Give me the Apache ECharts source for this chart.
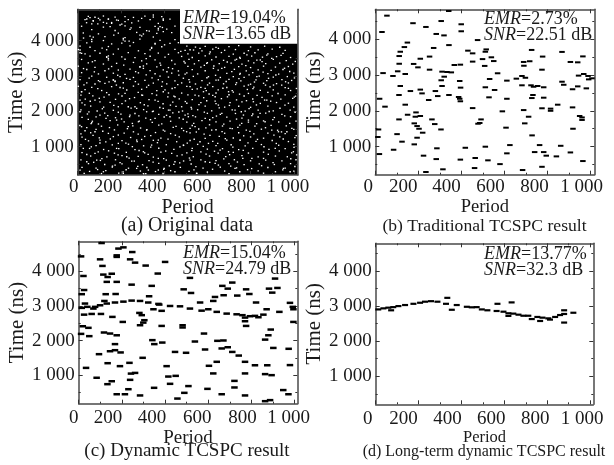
<!DOCTYPE html>
<html><head><meta charset="utf-8">
<style>html,body{margin:0;padding:0;background:#fff}#c{width:614px;height:465px;filter:blur(0.45px)}</style>
<script src="https://cdn.jsdelivr.net/npm/echarts@6/dist/echarts.min.js"></script>
</head><body><div id="c"></div>
<script>
const xTicks=[0,200,400,600,800,1000];
const xTickLabels=['0','200','400','600','800','1 000'];
const xMinorTicks=[100,300,500,700,900];
const yTicks=[1000,2000,3000,4000];
const yTickLabels=['1 000','2 000','3 000','4 000'];
const yMinorTicks=[500,1500,2500,3500,4500];

const originalData=[
[49,4690],[80,4665],[119,4700],[173,4670],[219,4685],[258,4660],[311,4695],[350,4670],[389,4680],
[34,4600],[72,4570],[103,4590],[142,4610],[188,4575],[234,4595],[281,4560],[335,4600],[396,4580],[427,4610],
[41,4510],[65,4480],[134,4495],[157,4515],[204,4470],[250,4505],[373,4490],
[18,4410],[119,4385],[150,4400],[219,4420],[288,4380],[358,4405],[392,4375],[450,4415],
[65,4315],[173,4290],[242,4320],[319,4285],[373,4305],[412,4330],
[26,4220],[96,4195],[188,4215],[273,4235],[304,4190],[366,4210],[435,4230],
[57,4130],[72,4100],[126,4115],[219,4090],[296,4135],[350,4105],
[65,4035],[119,4005],[211,4025],[288,4045],[381,4010],[450,4030],
[42,3940],[157,3910],[204,3930],[258,3950],[358,3905],[427,3925],[466,3945],
[11,3845],[57,3815],[142,3835],[242,3855],[342,3810],[389,3830],[505,3850],[545,3820],[590,3840],[640,3810],[700,3835],[745,3860],[800,3825],[865,3845],[935,3815],
[3,3750],[80,3720],[134,3745],[188,3765],[281,3715],[335,3740],[450,3755],[497,3725],[520,3745],[575,3715],[625,3760],[680,3730],[730,3750],[790,3720],[835,3740],[900,3765],[960,3725],
[11,3660],[34,3625],[103,3645],[165,3620],[234,3665],[311,3635],[373,3650],[420,3615],[466,3660],[510,3625],[560,3650],[610,3630],[665,3665],[720,3620],[770,3645],[820,3660],[880,3625],[950,3640],
[57,3565],[134,3530],[142,3570],[204,3545],[265,3520],[335,3560],[404,3535],[481,3555],[530,3525],[590,3570],[640,3540],[700,3555],[750,3530],[805,3565],[855,3535],[920,3550],[985,3525],
[18,3470],[80,3435],[142,3455],[219,3475],[296,3430],[358,3460],[435,3440],[515,3470],[560,3435],[620,3460],[675,3445],[735,3475],[790,3430],[845,3455],[905,3470],[965,3435],
[49,3375],[119,3340],[180,3360],[258,3385],[319,3345],[381,3365],[450,3335],[497,3370],[540,3345],[600,3380],[655,3350],[710,3365],[760,3335],[815,3375],[870,3350],[935,3365],[995,3340],
[3,3280],[80,3245],[157,3270],[288,3250],[304,3285],[366,3260],[420,3240],[510,3275],[570,3250],[630,3285],[680,3245],[745,3265],[800,3240],[860,3280],[915,3255],[975,3270],
[42,3185],[126,3150],[188,3170],[242,3195],[335,3155],[396,3175],[466,3145],[530,3180],[590,3150],[650,3165],[725,3190],[780,3145],[835,3175],[895,3160],[950,3185],
[18,3095],[96,3060],[165,3080],[219,3050],[281,3090],[358,3065],[435,3085],[497,3055],[505,3090],[555,3060],[690,3075],[750,3050],[810,3095],[880,3070],[930,3055],[1000,3085],
[65,2995],[134,2965],[196,2985],[258,2960],[381,3000],[420,2970],[535,2990],[660,2960],[720,2985],[770,2965],[840,2995],[905,2970],[970,2985],
[11,2900],[96,2870],[165,2890],[173,2860],[242,2905],[311,2875],[373,2895],[450,2865],[515,2900],[575,2870],[640,2885],[700,2905],[755,2865],[825,2890],[875,2870],[945,2900],[990,2875],
[42,2805],[80,2775],[126,2795],[211,2810],[281,2770],[350,2800],[412,2780],[481,2805],[545,2775],[610,2800],[675,2780],[735,2810],[800,2770],[860,2795],[920,2785],[975,2805],
[3,2710],[65,2680],[157,2700],[196,2675],[258,2715],[319,2685],[389,2705],[450,2670],[505,2710],[570,2680],[625,2700],[690,2675],[770,2715],[815,2685],[890,2695],[960,2670],
[34,2615],[111,2590],[227,2605],[296,2625],[366,2585],[404,2610],[530,2620],[595,2590],[650,2610],[715,2585],[785,2620],[845,2595],[905,2610],[985,2590],
[18,2556],[134,2530],[280,2540],[420,2520],[790,2508],[640,2520],[880,2535],[720,2545],
[15,2460],[70,2440],[145,2470],[205,2435],[300,2455],[365,2460],[445,2430],[510,2465],[560,2440],[625,2450],[700,2470],[770,2435],[830,2455],[900,2440],[960,2465],[1008,2430],
[35,2345],[100,2370],[175,2340],[240,2360],[330,2330],[358,2320],[470,2355],[530,2335],[597,2300],[665,2360],[735,2325],[810,2350],[865,2320],[940,2345],[995,2365],
[80,2320],[103,2270],[20,2240],[150,2255],[205,2220],[290,2245],[395,2215],[440,2260],[505,2230],[570,2250],[640,2220],[705,2245],[760,2270],[845,2225],[920,2250],[975,2230],
[234,2130],[265,2130],[60,2150],[120,2120],[325,2155],[380,2110],[455,2140],[525,2115],[590,2150],[680,2120],[745,2145],[800,2115],[880,2150],[1000,2120],
[15,2040],[90,2010],[165,2030],[305,2050],[350,2005],[420,2035],[485,2010],[555,2045],[620,2015],[715,2040],[775,2005],[835,2035],[905,2015],[983,2037],
[45,1925],[125,1950],[200,1920],[265,1940],[375,1915],[440,1955],[510,1930],[600,1945],[660,1915],[730,1940],[810,1925],[870,1950],[945,1915],
[131,1800],[20,1830],[85,1845],[175,1820],[240,1850],[315,1810],[400,1840],[470,1815],[545,1845],[625,1820],[690,1835],[760,1810],[835,1840],[910,1825],[985,1850],
[65,1680],[68,1720],[62,1650],[150,1735],[215,1700],[285,1725],[345,1690],[430,1720],[505,1695],[575,1735],[640,1700],[705,1725],[790,1695],[860,1730],[930,1700],[1010,1725],
[10,1600],[110,1580],[185,1615],[255,1590],[375,1610],[455,1575],[530,1600],[610,1620],[670,1585],[750,1610],[820,1580],[895,1605],[965,1590],
[34,1451],[396,1470],[85,1490],[170,1475],[230,1510],[320,1485],[490,1455],[560,1500],[640,1480],[715,1510],[780,1470],[850,1495],[925,1465],[1000,1490],
[142,1376],[60,1395],[15,1360],[215,1385],[280,1355],[360,1400],[430,1370],[520,1390],[585,1355],[680,1380],[745,1395],[815,1360],[880,1385],[960,1370],
[590,1235],[20,1270],[100,1250],[165,1285],[245,1260],[310,1290],[385,1240],[470,1275],[655,1290],[720,1245],[800,1275],[860,1240],[935,1280],[1005,1255],
[458,1140],[566,1140],[751,1187],[50,1165],[130,1135],[205,1170],[275,1145],[350,1180],[520,1175],[625,1150],[690,1185],[825,1150],[900,1175],[975,1145],
[342,1045],[15,1060],[85,1030],[160,1050],[235,1070],[305,1025],[410,1055],[490,1035],[555,1065],[640,1030],[710,1055],[775,1025],[850,1060],[930,1040],[1000,1065],
[55,950],[120,920],[190,945],[265,915],[375,955],[445,925],[530,950],[600,930],[670,945],[745,915],[810,950],[885,925],[960,945],
[435,810],[20,830],[95,850],[170,815],[225,840],[310,825],[385,845],[505,825],[570,850],[650,815],[720,840],[790,820],[860,845],[990,825],
[60,735],[135,710],[205,745],[280,725],[350,705],[460,740],[535,715],[610,735],[685,720],[760,745],[835,710],[915,735],[970,715],
[250,592],[262,592],[15,625],[105,610],[175,630],[330,605],[410,620],[490,595],[570,625],[640,605],[725,630],[800,600],[870,620],[945,600],[1010,630],
[50,520],[125,495],[205,515],[300,490],[375,525],[445,500],[525,510],[651,479],[700,520],[770,490],[840,515],[910,495],[985,520],
[20,415],[85,395],[160,420],[235,390],[320,410],[400,385],[475,415],[580,395],[660,420],[735,400],[805,380],[880,410],[960,390],
[55,300],[130,320],[210,285],[290,310],[305,235],[315,235],[360,295],[430,320],[515,300],[600,280],[680,310],[750,290],[835,315],[915,290],[1000,305],
[30,245],[110,240],[190,250],[395,240],[550,245],[700,235],[860,250],
[636,2414],[651,2178],[813,2273],[875,2320],[698,2556],[582,2556],[543,2461],[512,1848],[590,1801],[667,1942],[759,1659],[790,1753],[867,1706],[898,1470],[929,1423],[968,1423],[991,1517],[520,1517],[543,1565],[620,1470],[705,1517],[605,1093],[752,1187],[698,857],[659,904],[914,951],[998,857],[636,526],[806,668],[860,668],[520,621],[952,385],[983,290],[728,385],[551,243],[590,573],[767,1895],[844,1942],[728,2037],
[18,2556],[219,2509],[296,2461],[396,2556],[450,2414],[11,2320],[188,2131],[273,2084],[319,1989],[427,2037],[481,2131],[11,1989],[103,1895],[180,1753],[242,1895],[281,1706],[358,1800],[427,1848],[497,1895],[18,1565],[80,1423],[234,1565],[319,1470],[481,1517],[504,1423],[103,1187],[188,1093],[273,1187],[373,1187],[489,1045],[26,951],[80,810],[180,951],[227,715],[304,857],[373,668],[450,573],[42,573],[88,621],[173,479],[273,385],[327,338],[373,338],[450,290],[11,338],[119,290],[211,243],
[42,4615],[57,4652],[72,4558],[96,4633],[119,4520],[142,4615],[157,4492],[180,4586],[196,4445],[219,4539],[296,4633],[350,4728],[396,4615],[65,3973],[211,4067],[219,3991],[288,4161],[358,3925],[342,3784],[142,3500],[134,3548],[288,3265],[304,3217],[165,2887],[173,2840],[103,2840],[373,4350],[381,4397],[396,4256],[11,3737],[18,3642],
[898,3500],[875,3595],[829,3453],[728,3453],[752,3500],[566,3784],[536,3737],[651,3784],[597,3359],[667,3217],[752,3076],[829,2981],[906,2745],[944,2745],[975,2651],[520,2698],[605,2981],[651,2887],[790,2745],[590,2651],
[93,4478],[247,4362],[331,4271],[167,4158],[27,4076],[238,3987],[402,3884],[113,3792],[477,3698],[613,3681],[783,3602],[941,3588],[317,3491],[68,3404],[492,3412],[692,3398],[853,3406],[1007,3413],[213,3311],[384,3307],[586,3303],[778,3296],[27,3212],[143,3203],[439,3208],[628,3217],[957,3221],[77,3119],[268,3124],[413,3121],[713,3128],[858,3112],[981,3129],[185,3022],[317,3034],[468,3027],[638,3021],[793,3033],[917,3029],[53,2941],[226,2932],[344,2947],[489,2938],[598,2952],[746,2928],[883,2936],[1003,2946],[145,2833],[267,2842],[392,2837],[518,2829],[687,2846],[818,2831],[962,2838],[29,2752],[179,2744],[328,2738],[463,2757],[601,2749],[731,2761],[869,2743],[93,2641],[211,2660],[437,2648],[553,2637],[672,2655],[811,2641],[1012,2648],[54,2512],[189,2496],[344,2503],[481,2518],[608,2492],[749,2487],[927,2506],[122,2402],[263,2391],[417,2409],[583,2387],[693,2412],[853,2396],[1002,2401],[58,2287],[221,2296],[372,2283],[498,2278],[636,2291],[781,2302],[893,2288],[33,2184],[167,2172],[308,2187],[429,2176],[561,2191],[702,2168],[827,2182],[959,2174],[114,2074],[247,2089],[396,2082],[527,2067],[655,2096],[793,2078],[936,2088],[52,1987],[188,1976],[346,1994],[468,1982],[586,1978],[757,1989],[886,1996],[1006,1975],[139,1880],[283,1873],[411,1888],[533,1879],[642,1867],[806,1882],[958,1870],[49,1771],[203,1783],[337,1766],[488,1777],[611,1762],[735,1781],[903,1768],[96,1642],[253,1658],[389,1645],[537,1661],[676,1639],[828,1652],[981,1662],[42,1537],[147,1541],[291,1528],[442,1544],[593,1533],[741,1549],[869,1537],[116,1437],[258,1421],[403,1442],[549,1415],[668,1428],[797,1436],[943,1419],[71,1318],[188,1329],[338,1313],[452,1324],[612,1322],[768,1308],[908,1326],[1011,1314],[36,1207],[151,1219],[296,1204],[418,1215],[539,1211],[683,1227],[832,1206],[951,1218],[103,1104],[223,1098],[369,1113],[507,1102],[648,1096],[788,1109],[919,1091],[63,996],[253,1001],[338,987],[473,994],[581,1008],[718,986],[862,998],[1001,979],[143,883],[284,892],[407,877],[528,889],[633,871],[766,894],[933,878],[42,778],[187,766],[326,782],[483,769],[594,788],[703,774],[882,785],[1013,768],[112,662],[238,676],[398,661],[517,678],[676,655],[764,669],[986,658],[74,558],[196,547],[349,562],[472,541],[611,553],[739,566],[904,549],[161,450],[278,443],[424,458],[547,436],[708,447],[851,461],[1005,439],[92,352],[224,347],[398,356],[538,342],[624,361],[786,348],[949,343]
];
const traditionalResult=[
[341,4780],[54,4650],[306,4500],[399,4410],[175,4440],[235,4335],[31,4195],[399,4215],[283,4140],[319,4100],[149,3900],[135,3775],[342,3830],[271,3750],[116,3645],[111,3525],[430,3675],[452,3600],[515,3710],[511,3645],[726,3695],[867,3640],[777,3510],[111,3310],[252,3510],[209,3450],[498,3440],[539,3490],[550,3385],[452,3370],[508,3250],[689,3360],[717,3380],[906,3360],[940,3350],[964,3515],[178,3305],[198,3210],[367,3275],[395,3285],[690,3255],[252,3145],[774,3145],[104,3100],[310,3090],[333,3080],[353,3070],[82,2970],[139,3025],[36,3050],[568,3045],[392,2830],[396,2645],[320,2950],[306,2850],[531,2885],[611,2840],[655,2895],[681,2970],[697,2920],[723,2710],[681,2710],[735,2670],[754,2690],[782,2655],[867,2810],[875,2725],[944,2980],[968,3025],[988,2970],[1006,2905],[991,2875],[980,2625],[916,2600],[940,2680],[310,2690],[209,2590],[116,2690],[163,2550],[217,2485],[279,2550],[290,2410],[342,2440],[387,2385],[392,2335],[395,2265],[110,2440],[20,2335],[45,2115],[139,2170],[248,2300],[452,2075],[528,2375],[511,2655],[554,2580],[611,2335],[590,1985],[689,2020],[712,1835],[727,2355],[732,2440],[782,2365],[774,2070],[814,2060],[814,2000],[847,2170],[916,2095],[949,1855],[960,1815],[960,1745],[150,1890],[189,1955],[186,1835],[209,1855],[110,1760],[263,1760],[276,1630],[181,1650],[194,1575],[203,1500],[220,1390],[305,1480],[15,1480],[101,1350],[12,1270],[194,1250],[124,1140],[181,1065],[85,915],[286,955],[418,970],[511,1000],[625,1045],[763,1045],[861,1025],[918,1500],[607,1530],[694,1650],[728,1315],[740,850],[782,850],[906,840],[841,730],[794,750],[19,795],[224,750],[283,655],[395,640],[464,685],[523,620],[611,815],[964,600],[579,515],[774,440],[461,405],[314,370],[235,295],[684,350],[485,1660],[491,1760],[477,1640],[475,3970]
];
const dynamicResult=[
[14,2945],[40,2975],[76,2975],[99,3020],[130,3070],[168,3100],[207,3125],[245,3155],[284,3145],[322,3100],[369,3060],[423,3000],[469,2990],[515,2925],[569,2865],[600,2905],[639,2830],[685,2780],[731,2760],[770,2665],[793,2705],[816,2715],[832,2675],[855,2750],[870,2905],
[106,4815],[207,4690],[184,4655],[248,4555],[176,4460],[176,4415],[99,4345],[11,4430],[238,4345],[261,4250],[310,4165],[110,4155],[400,4270],[366,3935],[22,3865],[114,3905],[153,3930],[134,3835],[130,3695],[176,3695],[245,3615],[338,3580],[515,3810],[909,3790],[25,3460],[14,3340],[125,3340],[171,3345],[326,3280],[486,3480],[520,3375],[665,3580],[711,3675],[690,3500],[631,3260],[623,3145],[671,3310],[734,3300],[775,3480],[790,3345],[821,3100],[881,3500],[920,3520],[896,3385],[562,3100],[119,3145],[29,3070],[68,2925],[25,2750],[60,2770],[103,2770],[156,2685],[204,2540],[281,2800],[292,2735],[304,2590],[299,2520],[284,2445],[346,2905],[384,2860],[373,3040],[384,2425],[481,2445],[481,2380],[758,2735],[770,2560],[775,2425],[19,2415],[45,2370],[11,2195],[49,2130],[117,2235],[145,2205],[176,2155],[168,1900],[341,2015],[350,1900],[387,1945],[538,1975],[580,2205],[642,1995],[670,2005],[585,1745],[446,1675],[497,1650],[662,1775],[690,1810],[711,1675],[741,1570],[168,1725],[145,1695],[194,1660],[94,1610],[296,1505],[235,1360],[191,1265],[134,1350],[407,1265],[34,1215],[83,930],[133,745],[153,830],[261,1070],[242,1050],[238,870],[230,600],[176,455],[214,455],[284,420],[415,965],[449,985],[423,755],[349,640],[489,495],[457,330],[508,690],[596,610],[603,1275],[639,1390],[623,1055],[662,455],[721,840],[721,650],[770,420],[770,1055],[770,1390],[816,1290],[873,1290],[863,1035],[893,1005],[901,1790],[878,2155],[863,2030],[889,2320],[972,1765],[978,1295],[947,575],[971,455],[994,2540],[863,255],[886,285],[929,2830],[991,2975],[994,2905],[978,3090]
];
const longTermResult=[
[12,2905],[36,2935],[59,2955],[82,2970],[106,3000],[137,3030],[176,3065],[207,3095],[230,3125],[258,3140],[288,3125],[72,2880],[328,3065],[334,3235],[355,2895],[378,3030],[425,2980],[448,2965],[471,2970],[495,2905],[521,2880],[568,3065],[634,3105],[564,2860],[596,2840],[619,2795],[642,2785],[666,2755],[689,2725],[712,2725],[728,2630],[754,2690],[767,2575],[778,2670],[805,2650],[813,2615],[837,2690],[860,2745],[879,2775],[879,2530],[879,2880],[922,2810],[619,2720]
];
const annotations=[['19.04%','13.65 dB'],['2.73%','22.51 dB'],['15.04%','24.79 dB'],['13.77%','32.3 dB']];
const captions=['(a) Original data','(b) Traditional TCSPC result','(c) Dynamic TCSPC result','(d) Long-term dynamic TCSPC result'];

const F='"Liberation Serif",serif';
const INK='#1a1a1a';
const panels=[
 {data:originalData,l:77.7,t:9.3,w:220,h:165.7,xMax:1018,yMin:198,yMax:4890,dark:true,size:[1.4,1.3],color:'#ffffff',xm:3,
  shift:[4,13,12,10,9,6],pf:20,pg:32,nameX:21,ann:[180,9],capFont:20,capX:187,capY:226},
 {data:traditionalResult,l:375.3,t:9.3,w:219,h:165.4,xMax:1017,yMin:220,yMax:4827,size:[5.5,2],color:'#000',xm:3,
  shift:[7,15,15,14,13,9],pf:18.5,pg:32,nameX:318,ann:[484,10],capFont:17.6,capX:484.5,capY:226},
 {data:dynamicResult,l:78.7,t:241.3,w:218.6,h:162.4,xMax:1012,yMin:182,yMax:4865,size:[6.5,2.5],color:'#000',xm:5,
  shift:[5,14,13,11,9,6],pf:19,pg:32,nameX:21,ann:[183,244],capFont:19,capX:187,capY:451},
 {data:longTermResult,l:375.7,t:243.3,w:217.6,h:161,xMax:1015,yMin:200,yMax:4790,size:[6,2.2],color:'#000',xm:5,
  shift:[8,15,14,13,12,8],pf:16.5,pg:31,nameX:318,ann:[484,245],capFont:16,capX:484,capY:452}
];
const grids=[],xAxes=[],yAxes=[],series=[],titles=[];
panels.forEach((p,i)=>{
 const rect={left:p.l,top:p.t,width:p.w,height:p.h};
 const base=grids.length;
 grids.push({...rect,show:true,backgroundColor:p.dark?'#000':'#fff',borderWidth:0,z:0},{...rect,show:false});
 const line=s=>({show:s,onZero:false,lineStyle:{color:'#4a4a4a',width:1.5}});
 const rich={};
 xTickLabels.forEach((_,k)=>{rich['s'+k]={fontFamily:F,fontSize:19,color:INK,padding:[0,p.shift[k]*2,0,0]};});
 const xa=(g,pos,vals,len,labels,showLine)=>({type:'value',gridIndex:g,position:pos,min:0,max:p.xMax,splitLine:{show:false},
   axisLine:line(showLine),axisTick:{show:true,inside:true,length:len,customValues:vals,lineStyle:{color:'#333',width:1}},
   axisLabel:labels?{show:true,customValues:xTicks,margin:p.xm,formatter:v=>{const k=xTicks.indexOf(v);return '{s'+k+'|'+xTickLabels[k]+'}';},rich}:{show:false},
   ...(labels?{name:'Period',nameLocation:'middle',nameGap:p.pg,nameTextStyle:{fontFamily:F,fontSize:p.pf,color:INK,verticalAlign:'middle'}}:{})});
 const ya=(g,pos,vals,len,labels,showLine)=>({type:'value',gridIndex:g,position:pos,min:p.yMin,max:p.yMax,splitLine:{show:false},
   axisLine:line(showLine),axisTick:{show:true,inside:true,length:len,customValues:vals,lineStyle:{color:'#333',width:1}},
   axisLabel:labels?{show:true,customValues:yTicks,margin:4,fontFamily:F,fontSize:19,color:INK,formatter:v=>yTickLabels[yTicks.indexOf(v)]}:{show:false},
   ...(labels?{name:'Time (ns)',nameLocation:'middle',nameGap:p.l-p.nameX,nameTextStyle:{fontFamily:F,fontSize:21,color:INK,verticalAlign:'middle'}}:{})});
 const xBase=xAxes.length,yBase=yAxes.length;
 xAxes.push(xa(base,'bottom',xTicks,4,true,true),xa(base,'top',xTicks,4,false,true),xa(base+1,'bottom',xMinorTicks,2,false,false),xa(base+1,'top',xMinorTicks,2,false,false));
 yAxes.push(ya(base,'left',yTicks,4,true,true),ya(base,'right',yTicks,4,false,true),ya(base+1,'left',yMinorTicks,2,false,false),ya(base+1,'right',yMinorTicks,2,false,false));
 series.push({type:'scatter',xAxisIndex:xBase,yAxisIndex:yBase,data:p.data,symbol:'rect',symbolSize:p.size,itemStyle:{color:p.color,opacity:1},silent:true,animation:false,clip:true,z:3});
 const a=annotations[i];
 const s={fontFamily:F,fontWeight:'normal',fontSize:18,color:INK,lineHeight:16.5};
 titles.push({left:p.ann[0],top:p.ann[1],z:20,
   ...(p.dark?{backgroundColor:'#fff',padding:[1,6,0,3]}:{padding:[1,3,0,0]}),
   text:'{i|EMR}{r|='+a[0]+'}\n{i|SNR}{r|='+a[1]+'}',
   textStyle:{fontWeight:'normal',rich:{i:{...s,fontStyle:'italic'},r:s}}});
 titles.push({text:captions[i],left:p.capX,top:p.capY,textAlign:'center',textVerticalAlign:'middle',padding:0,z:20,
   textStyle:{fontFamily:F,fontWeight:'normal',fontSize:p.capFont,color:INK}});
});
const chart=echarts.init(document.getElementById('c'),null,{renderer:'canvas',width:614,height:465});
chart.setOption({animation:false,backgroundColor:'#fff',title:titles,grid:grids,xAxis:xAxes,yAxis:yAxes,series,tooltip:{show:false}});
</script></body></html>
